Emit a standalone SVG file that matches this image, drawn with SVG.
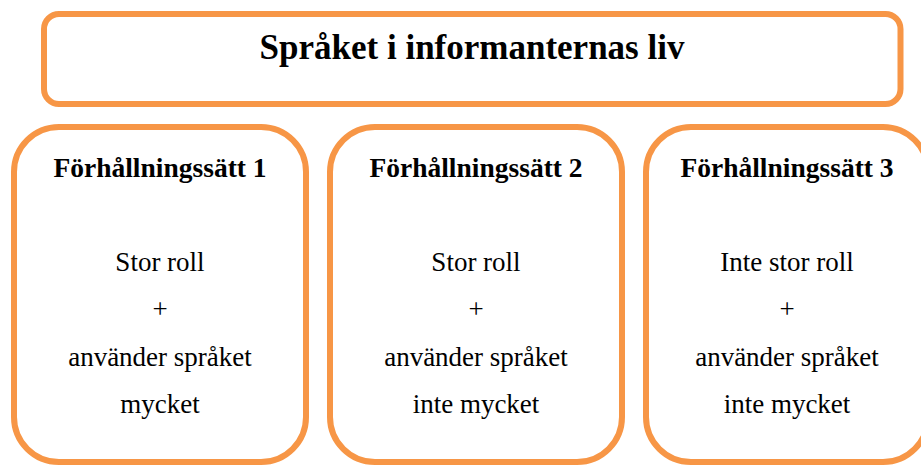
<svg xmlns="http://www.w3.org/2000/svg" width="921" height="466" viewBox="0 0 921 466">
  <style>
    .box { fill: #ffffff; stroke: #F79646; stroke-width: 6; }
    .title { font-family: "Liberation Serif", "Times New Roman", serif; font-weight: bold; font-size: 35px; fill: #000; text-anchor: middle; }
    .head { font-family: "Liberation Serif", "Times New Roman", serif; font-weight: bold; font-size: 27.5px; fill: #000; text-anchor: middle; }
    .body { font-family: "Liberation Serif", "Times New Roman", serif; font-size: 27px; fill: #000; text-anchor: middle; }
  </style>
  <rect width="921" height="466" fill="#ffffff"/>

  <g id="title">
    <rect class="box" x="44" y="14" width="856.5" height="90" rx="15" ry="15"/>
    <text class="title" x="472" y="59">Språket i informanternas liv</text>
  </g>

  <g id="approach-1">
    <rect class="box" x="14" y="127" width="292" height="335" rx="45" ry="45"/>
    <text class="head" x="160" y="177">Förhållningssätt 1</text>
    <text class="body" x="160" y="271">Stor roll</text>
    <text class="body" x="160" y="318">+</text>
    <text class="body" x="160" y="366">använder språket</text>
    <text class="body" x="160" y="413">mycket</text>
  </g>

  <g id="approach-2">
    <rect class="box" x="330" y="127" width="292" height="335" rx="45" ry="45"/>
    <text class="head" x="476" y="177">Förhållningssätt 2</text>
    <text class="body" x="476" y="271">Stor roll</text>
    <text class="body" x="476" y="318">+</text>
    <text class="body" x="476" y="366">använder språket</text>
    <text class="body" x="476" y="413">inte mycket</text>
  </g>

  <g id="approach-3">
    <rect class="box" x="646" y="127" width="282" height="335" rx="45" ry="45"/>
    <text class="head" x="787" y="177">Förhållningssätt 3</text>
    <text class="body" x="787" y="271">Inte stor roll</text>
    <text class="body" x="787" y="318">+</text>
    <text class="body" x="787" y="366">använder språket</text>
    <text class="body" x="787" y="413">inte mycket</text>
  </g>

  <g id="connectors"></g>
</svg>
